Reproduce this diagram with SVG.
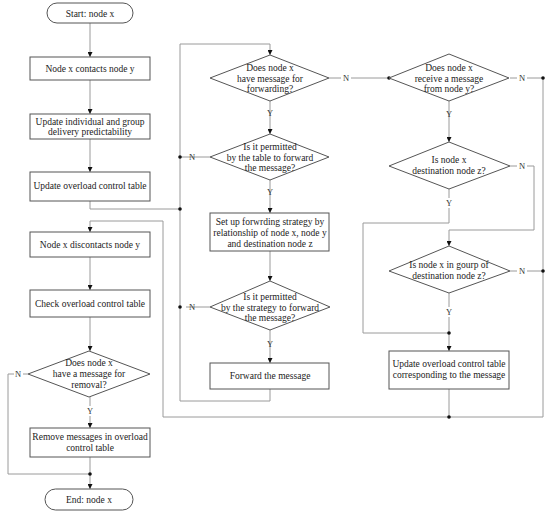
<svg xmlns="http://www.w3.org/2000/svg" width="550" height="514" viewBox="0 0 550 514">
<defs>
<marker id="ah" viewBox="0 0 6 6" refX="6" refY="3" markerWidth="5" markerHeight="5" orient="auto" markerUnits="userSpaceOnUse">
<path d="M0,0 L6,3 L0,6 Z" fill="#111"/>
</marker>
</defs>
<style>
.box{fill:#fff;stroke:#555;stroke-width:1}
.ln{fill:none;stroke:#9a9a9a;stroke-width:1}
.arr{marker-end:url(#ah)}
.t{font-family:"Liberation Serif","Times New Roman",serif;font-size:9.5px;fill:#222;text-anchor:middle}
.yn{font-family:"Liberation Serif","Times New Roman",serif;font-size:8.5px;fill:#333;text-anchor:middle}
.dot{fill:#111}
</style>
<rect width="550" height="514" fill="#fff"/>
<g id="connectors">
<path class="ln arr" d="M90,23 V57"/>
<path class="ln arr" d="M90,80 V114"/>
<path class="ln arr" d="M90,139 V172"/>
<path class="ln" d="M90,201 V209 H180"/>
<path class="ln arr" d="M270,389 V401 H180 V44 H270 V55"/>
<path class="ln arr" d="M270,101 V134"/>
<path class="ln arr" d="M270,180 V213"/>
<path class="ln arr" d="M270,251 V281"/>
<path class="ln arr" d="M270,330 V363"/>
<path class="ln" d="M210,157 H186"/>
<path class="ln" d="M210,307 H186"/>
<path class="ln" d="M329,78 H341 M351,78 H389"/>
<path class="ln arr" d="M449,101 V142"/>
<path class="ln" d="M449,189 V198 M449,208 V223 H363 V333 H449"/>
<path class="ln" d="M510,166 H517 M527,166 H534 V230 H449"/>
<path class="ln arr" d="M449,230 V246"/>
<path class="ln" d="M510,78 H517 M527,78 H543 V417 H163 V221 H90"/>
<path class="ln arr" d="M90,221 V232"/>
<path class="ln" d="M510,271 H517 M527,271 H543"/>
<path class="ln" d="M449,293 V307 M449,317 V333"/>
<path class="ln arr" d="M449,333 V351"/>
<path class="ln" d="M449,389 V417"/>
<path class="ln arr" d="M90,257 V290"/>
<path class="ln arr" d="M90,317 V351"/>
<path class="ln" d="M90,397 V406 M90,416 V420"/>
<path class="ln arr" d="M90,420 V428"/>
<path class="ln" d="M28,374 H23 M14,374 H8 V474 H90"/>
<path class="ln arr" d="M90,457 V489"/>
<path class="ln" d="M181,157 H186"/>
<circle class="dot" cx="180" cy="157" r="1.8"/>
<circle class="dot" cx="180" cy="209" r="1.8"/>
<circle class="dot" cx="180" cy="307" r="1.8"/>
<circle class="dot" cx="389" cy="78" r="1.8"/>
<circle class="dot" cx="543" cy="78" r="1.8"/>
<circle class="dot" cx="543" cy="271" r="1.8"/>
<circle class="dot" cx="449" cy="333" r="1.8"/>
<circle class="dot" cx="449" cy="417" r="1.8"/>
<circle class="dot" cx="90" cy="474" r="1.8"/>
<text class="yn" x="192" y="160">N</text>
<text class="yn" x="192" y="310">N</text>
<text class="yn" x="346" y="81">N</text>
<text class="yn" x="522" y="81">N</text>
<text class="yn" x="522" y="169">N</text>
<text class="yn" x="522" y="274">N</text>
<text class="yn" x="18" y="377">N</text>
<text class="yn" x="270" y="116">Y</text>
<text class="yn" x="270" y="195">Y</text>
<text class="yn" x="270" y="347">Y</text>
<text class="yn" x="449" y="117">Y</text>
<text class="yn" x="449" y="206">Y</text>
<text class="yn" x="449" y="315">Y</text>
<text class="yn" x="90" y="414">Y</text>
</g>
<g id="start">
<rect class="box" x="47" y="3" width="86" height="20" rx="10"/>
<text class="t" x="90" y="16.5">Start: node x</text>
</g>
<g id="contacts">
<rect class="box" x="30" y="57" width="120" height="23"/>
<text class="t" x="90" y="71.5">Node x contacts node y</text>
</g>
<g id="update-pred">
<rect class="box" x="30" y="114" width="120" height="25"/>
<text class="t" x="90" y="125">Update individual and group</text>
<text class="t" x="90" y="135">delivery predictability</text>
</g>
<g id="update-table">
<rect class="box" x="30" y="172" width="120" height="29"/>
<text class="t" x="90" y="189">Update overload control table</text>
</g>
<g id="discontacts">
<rect class="box" x="30" y="232" width="120" height="25"/>
<text class="t" x="90" y="247.5">Node x discontacts node y</text>
</g>
<g id="check-table">
<rect class="box" x="30" y="290" width="120" height="27"/>
<text class="t" x="90" y="306.5">Check overload control table</text>
</g>
<g id="removal-q">
<polygon class="box" points="28,374 89,351 150,374 89,397"/>
<text class="t" x="89" y="366">Does node x</text>
<text class="t" x="89" y="377">have a message for</text>
<text class="t" x="89" y="388">removal?</text>
</g>
<g id="remove">
<rect class="box" x="30" y="428" width="120" height="29"/>
<text class="t" x="90" y="440">Remove messages in overload</text>
<text class="t" x="90" y="451">control table</text>
</g>
<g id="end">
<rect class="box" x="45" y="489" width="88" height="21" rx="10.5"/>
<text class="t" x="89" y="503">End: node x</text>
</g>
<g id="fwd-q">
<polygon class="box" points="210,78 270,55 329,78 270,101"/>
<text class="t" x="270" y="71">Does node x</text>
<text class="t" x="270" y="81.5">have message for</text>
<text class="t" x="270" y="92">forwarding?</text>
</g>
<g id="table-q">
<polygon class="box" points="210,157 270,134 329,157 270,180"/>
<text class="t" x="270" y="150">Is it permitted</text>
<text class="t" x="270" y="160.5">by the table to forward</text>
<text class="t" x="270" y="171">the message?</text>
</g>
<g id="strategy">
<rect class="box" x="210" y="213" width="119" height="38"/>
<text class="t" x="270" y="225">Set up forwrding strategy by</text>
<text class="t" x="270" y="236">relationship of node x, node y</text>
<text class="t" x="270" y="247">and destination node z</text>
</g>
<g id="strategy-q">
<polygon class="box" points="210,307 270,281 330,307 270,330"/>
<text class="t" x="270" y="300">Is it permitted</text>
<text class="t" x="270" y="310.5">by the strategy to forward</text>
<text class="t" x="270" y="321">the message?</text>
</g>
<g id="forward">
<rect class="box" x="210" y="363" width="119" height="26"/>
<text class="t" x="270" y="379">Forward the message</text>
</g>
<g id="receive-q">
<polygon class="box" points="389,78 449,54 509,78 449,101"/>
<text class="t" x="449" y="71">Does node x</text>
<text class="t" x="449" y="81.5">receive a message</text>
<text class="t" x="449" y="92">from node y?</text>
</g>
<g id="dest-q">
<polygon class="box" points="389,166 449,142 510,166 449,189"/>
<text class="t" x="449" y="163">Is node x</text>
<text class="t" x="449" y="174">destination node z?</text>
</g>
<g id="group-q">
<polygon class="box" points="389,271 449,246 510,271 449,293"/>
<text class="t" x="449" y="268">Is node x in gourp of</text>
<text class="t" x="449" y="279">destination node z?</text>
</g>
<g id="update-msg">
<rect class="box" x="389" y="351" width="120" height="38"/>
<text class="t" x="449" y="367">Update overload control table</text>
<text class="t" x="449" y="378">corresponding to the message</text>
</g>
</svg>
